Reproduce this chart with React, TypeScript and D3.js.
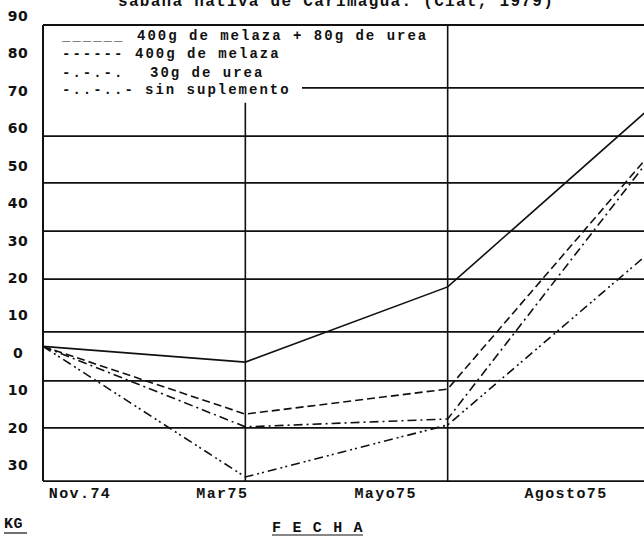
import React from "react";
import * as d3 from "d3";

// ---- data ----
const dates = ["Nov.74", "Mar75", "Mayo75", "Agosto75"];
const yTickValues = [90, 80, 70, 60, 50, 40, 30, 20, 10, 0, -10, -20, -30];
const yTickLabels = ["90", "80", "70", "60", "50", "40", "30", "20", "10", "0", "10", "20", "30"];

const seriesNames = [
  "400g de melaza + 80g de urea",
  "400g de melaza",
  "30g de urea",
  "sin suplemento",
];
const legendSymbols = ["______", "------", "-.-.-.", "-..-..-"];

const melazaUrea = [1.7, -2.5, 17.6, 65.4];
const melaza = [1.7, -16.4, -9.7, 53.1];
const urea = [1.7, -19.8, -17.7, 52.0];
const sinSuplemento = [1.7, -33.2, -19.3, 26.9];

// grid lines of the original sheet, in axis units
const gridValues = [87.6, 57.9, 45.4, 32.5, 19.7, 5.6, -7.5, -20.1, -34.3];
const legendRuleValue = 70.8;
const marTopValue = 66.8;

const title = "sabana nativa de Carimagua. (Ciat, 1979)";
const yAxisTitle = "KG";
const xAxisTitle = "F E C H A";

// ---- layout ----
const W = 644;
const H = 536;
const mono = "'Liberation Mono', 'DejaVu Sans Mono', monospace";
const dashes = ["none", "8,4", "9,4,2,4", "9,4,2,3,2,4"];
const xLabelOffsets = [37, -23, -62, -84];
const legendBaselines = [40, 58, 77, 94];
const legendTextX = [137, 135, 150, 145];

export default function App() {
  const x = d3.scalePoint<string>().domain(dates).range([43, 650]);
  const y = d3.scaleLinear().domain([90, -30]).range([16, 465]);
  const series = [melazaUrea, melaza, urea, sinSuplemento];
  const line = d3
    .line<number>()
    .x((_, i) => x(dates[i]) as number)
    .y((v) => y(v));

  const xLeft = x(dates[0]) as number;
  const gridTop = y(gridValues[0]);
  const gridBottom = y(gridValues[gridValues.length - 1]);
  const ink = "#111";

  return (
    <svg
      width={W}
      height={H}
      viewBox={`0 0 ${W} ${H}`}
      style={{ position: "absolute", left: 0, top: 0, background: "#fff" }}
    >
      <rect x={0} y={0} width={W} height={H} fill="#fff" />
      {/* title (cut off at top, as in the scan) */}
      <text x={118} y={6} fontFamily={mono} fontSize={16} fontWeight="bold" letterSpacing={1.3} fill={ink}>
        {title}
      </text>

      {/* horizontal grid */}
      {gridValues.map((g, i) => (
        <line key={"g" + i} x1={xLeft} x2={W} y1={y(g)} y2={y(g)} stroke={ink} strokeWidth={1.8} />
      ))}
      <line x1={302} x2={W} y1={y(legendRuleValue)} y2={y(legendRuleValue)} stroke={ink} strokeWidth={1.6} />

      {/* verticals */}
      <line x1={xLeft} x2={xLeft} y1={gridTop} y2={gridBottom} stroke={ink} strokeWidth={2} />
      <line
        x1={x(dates[1])}
        x2={x(dates[1])}
        y1={y(marTopValue)}
        y2={gridBottom}
        stroke={ink}
        strokeWidth={1.6}
      />
      <line
        x1={x(dates[2])}
        x2={x(dates[2])}
        y1={gridTop}
        y2={gridBottom}
        stroke={ink}
        strokeWidth={1.6}
      />

      {/* y tick labels */}
      {yTickValues.map((v, i) => (
        <text
          key={"yt" + i}
          x={18}
          y={y(v)}
          dy="0.36em"
          textAnchor="middle"
          fontFamily="'DejaVu Sans', sans-serif"
          fontSize={14}
          fontWeight="bold"
          letterSpacing={0.5}
          fill={ink}
        >
          {yTickLabels[i]}
        </text>
      ))}

      {/* x tick labels */}
      {dates.map((d, i) => (
        <text
          key={"xt" + i}
          x={(x(d) as number) + xLabelOffsets[i]}
          y={498}
          textAnchor="middle"
          fontFamily={mono}
          fontSize={15}
          fontWeight="bold"
          letterSpacing={1.4}
          fill={ink}
        >
          {d}
        </text>
      ))}

      {/* axis titles */}
      <text x={4} y={528} fontFamily={mono} fontSize={15} fontWeight="bold" letterSpacing={0.5} fill={ink}>
        {yAxisTitle}
      </text>
      <line x1={4} x2={27} y1={533} y2={533} stroke={ink} strokeWidth={1.2} />
      <text x={272} y={532} fontFamily={mono} fontSize={15} fontWeight="bold" letterSpacing={1.2} fill={ink}>
        {xAxisTitle}
      </text>
      <line x1={272} x2={363} y1={535} y2={535} stroke={ink} strokeWidth={1.2} />

      {/* data lines */}
      {series.map((s, i) => (
        <path
          key={"s" + i}
          d={line(s) as string}
          fill="none"
          stroke={ink}
          strokeWidth={1.6}
          strokeDasharray={dashes[i]}
        />
      ))}

      {/* legend */}
      {seriesNames.map((n, i) => (
        <g key={"lg" + i}>
          <text x={62} y={legendBaselines[i]} fontFamily={mono} fontSize={14} letterSpacing={2} fontWeight="bold" fill={ink}>
            {legendSymbols[i]}
          </text>
          <text x={legendTextX[i]} y={legendBaselines[i]} fontFamily={mono} fontSize={14} letterSpacing={2} fontWeight="bold" fill={ink}>
            {n}
          </text>
        </g>
      ))}
    </svg>
  );
}
